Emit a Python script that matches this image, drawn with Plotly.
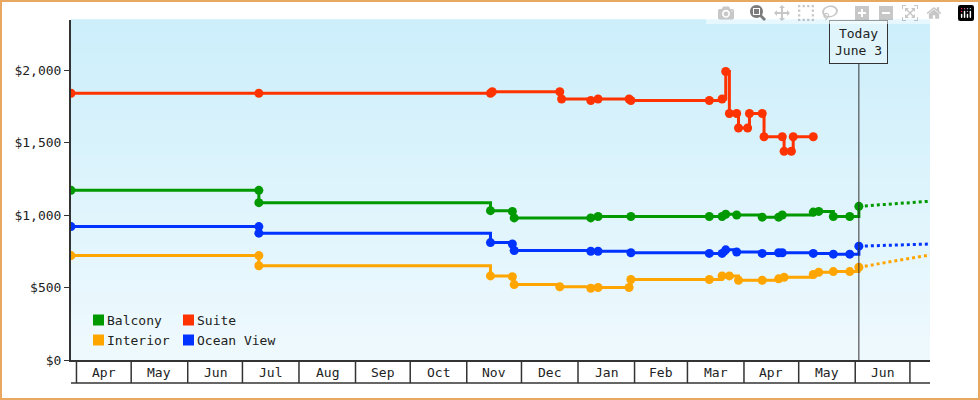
import plotly.graph_objects as go
import pandas as pd

suite_dates = ["2023-03-29","2023-07-10","2023-11-14","2023-11-15","2023-12-22","2023-12-23","2024-01-08","2024-01-12","2024-01-29","2024-01-30","2024-03-13","2024-03-20","2024-03-22","2024-03-24","2024-03-28","2024-03-29","2024-04-03","2024-04-04","2024-04-11","2024-04-12","2024-04-22","2024-04-23","2024-04-27","2024-04-28","2024-05-09"]
suite_vals = [1840,1840,1840,1850,1850,1800,1790,1800,1800,1790,1790,1800,1990,1700,1700,1600,1600,1700,1700,1540,1540,1440,1440,1540,1540]

balcony_dates = ["2023-03-29","2023-07-10","2023-07-10","2023-11-14","2023-11-26","2023-11-27","2024-01-08","2024-01-12","2024-01-30","2024-03-13","2024-03-20","2024-03-22","2024-03-28","2024-04-11","2024-04-20","2024-04-22","2024-05-09","2024-05-12","2024-05-20","2024-05-29","2024-06-03"]
balcony_vals = [1170,1170,1085,1030,1025,980,980,990,990,990,990,1005,1000,985,985,1000,1020,1025,990,990,1060]

interior_dates = ["2023-03-29","2023-07-10","2023-07-10","2023-11-14","2023-11-26","2023-11-27","2023-12-22","2024-01-08","2024-01-12","2024-01-29","2024-01-30","2024-03-13","2024-03-20","2024-03-24","2024-03-29","2024-04-11","2024-04-20","2024-04-23","2024-05-09","2024-05-12","2024-05-20","2024-05-29","2024-06-03"]
interior_vals = [720,720,650,580,575,520,505,495,500,500,555,555,580,580,550,550,560,570,590,605,610,610,640]

ocean_dates = ["2023-03-29","2023-07-10","2023-07-10","2023-11-14","2023-11-26","2023-11-27","2024-01-08","2024-01-12","2024-01-30","2024-03-13","2024-03-20","2024-03-22","2024-03-28","2024-04-11","2024-04-20","2024-04-22","2024-05-09","2024-05-20","2024-05-29","2024-06-03"]
ocean_vals = [920,920,875,810,800,755,750,750,740,735,735,760,745,735,740,740,735,730,730,785]

forecast_dates = ["2024-06-03","2024-07-12"]
forecast_balcony = [1060,1095]
forecast_interior = [640,725]
forecast_ocean = [785,800]

months = ["Apr","May","Jun","Jul","Aug","Sep","Oct","Nov","Dec","Jan","Feb","Mar","Apr","May","Jun"]
month_starts = pd.date_range("2023-04-01", "2024-07-01", freq="MS")
y_ticks = [0,500,1000,1500,2000]
y_labels = ["$0","$500","$1,000","$1,500","$2,000"]

series = [("Suite", suite_dates, suite_vals, "#ff3300", None),
          ("Balcony", balcony_dates, balcony_vals, "#009900", forecast_balcony),
          ("Interior", interior_dates, interior_vals, "#ffa500", forecast_interior),
          ("Ocean View", ocean_dates, ocean_vals, "#0033ff", forecast_ocean)]

FONT = "DejaVu Sans Mono"
fig = go.Figure()
for name, d, v, c, fc in series:
    fig.add_trace(go.Scatter(x=d, y=v, mode="lines+markers", line=dict(color=c, width=3, shape="hv"),
                             marker=dict(color=c, size=9, symbol="circle"), name=name, showlegend=False))
    if fc:
        fig.add_trace(go.Scatter(x=forecast_dates, y=fc, mode="lines", line=dict(color=c, width=3, dash="dot"),
                                 showlegend=False))

L, R, T, B = 71, 50, 20, 40
W, H = 980 - L - R, 400 - T - B
shapes = []
n = 30
for i in range(n):
    f = i / n
    def mix(a, b): return int(a + (b - a) * f)
    col = f"rgb({mix(205,240)},{mix(239,250)},{mix(251,254)})"
    shapes.append(dict(type="rect", xref="paper", yref="paper", x0=0, x1=1, y0=1 - (i + 1) / n, y1=1 - i / n + 0.002,
                       fillcolor=col, line=dict(width=0), layer="below"))
for ms in month_starts:
    shapes.append(dict(type="line", xref="x", yref="paper", x0=ms, x1=ms, y0=0, y1=-23 / H, line=dict(color="#333", width=1.5)))
shapes.append(dict(type="line", xref="paper", yref="paper", x0=0, x1=1, y0=-23 / H, y1=-23 / H, line=dict(color="#333", width=1.5)))
shapes.append(dict(type="line", xref="x", yref="paper", x0="2024-06-03", x1="2024-06-03", y0=0, y1=1, line=dict(color="#333", width=1)))
shapes.append(dict(type="rect", xref="paper", yref="paper", x0=-(L - 1) / W, x1=(979 - L) / W, y0=-(B - 1) / H, y1=1 + (T - 1) / H,
                   line=dict(color="#e8a860", width=2)))

annotations = []
for i, ms in enumerate(month_starts[:-1]):
    mid = ms + (month_starts[i + 1] - ms) / 2
    annotations.append(dict(x=mid, y=-12 / H, xref="x", yref="paper", yanchor="middle", text=months[i], showarrow=False,
                            font=dict(family=FONT, size=13, color="#222")))
annotations.append(dict(x="2024-06-03", y=1, xref="x", yref="paper", yanchor="top", text="Today<br>June 3", showarrow=False,
                        bgcolor="#dff4fb", bordercolor="#333", borderwidth=1, borderpad=5, font=dict(family=FONT, size=13, color="#222")))
legend = [("Balcony", "#009900", 0), ("Suite", "#ff3300", 1), ("Interior", "#ffa500", 0), ("Ocean View", "#0033ff", 1)]
for k, (nm, c, col) in enumerate(legend):
    px = 22 + col * 90
    py = 320 + 20 * (k // 2)
    ypap = (360 - py) / H
    shapes.append(dict(type="rect", xref="paper", yref="paper", x0=px / W, x1=(px + 11) / W, y0=ypap - 5.5 / H, y1=ypap + 5.5 / H,
                       fillcolor=c, line=dict(width=0)))
    annotations.append(dict(x=(px + 12) / W, y=ypap, xref="paper", yref="paper", xanchor="left", yanchor="middle", text=nm,
                            showarrow=False, font=dict(family=FONT, size=13, color="#222")))

fig.update_layout(width=980, height=400, margin=dict(l=L, r=R, t=T, b=B), paper_bgcolor="white", plot_bgcolor="rgba(0,0,0,0)",
                  shapes=shapes, annotations=annotations, font=dict(family=FONT, size=13, color="#222"),
                  xaxis=dict(range=["2023-03-29", "2024-07-12"], showticklabels=False, showgrid=False, zeroline=False,
                             showline=True, linecolor="#333", linewidth=1.5),
                  yaxis=dict(range=[0, 2345], tickvals=y_ticks, ticktext=y_labels, showgrid=False, zeroline=False,
                             showline=True, linecolor="#333", linewidth=2, ticks="outside", ticklen=5, tickcolor="#333"))
fig.write_html("out.html", post_script="document.body.style.margin='0px';document.body.style.overflow='hidden';")
